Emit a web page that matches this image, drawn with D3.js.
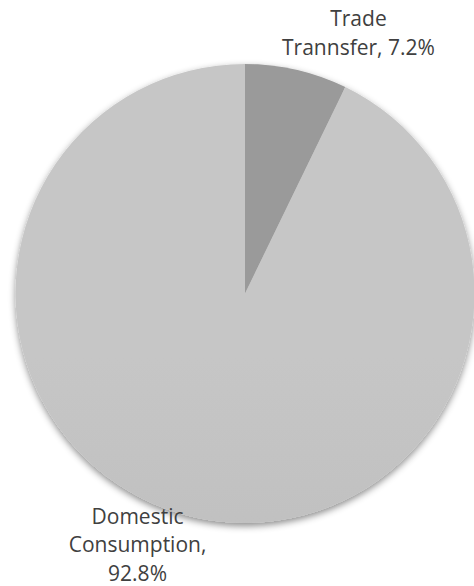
<!DOCTYPE html>
<html>
<head>
<meta charset="utf-8">
<script src="https://cdn.jsdelivr.net/npm/d3@7"></script>
<style>
  html, body { margin: 0; padding: 0; background: #fff; }
  svg { display: block; }
</style>
</head>
<body>
<svg id="chart" width="474" height="586"></svg>
<script>
// Share of trade flows
const categories = ["Trade Trannsfer", "Domestic Consumption"];
const values = [7.2, 92.8];
const labelLines = [["Trade", "Trannsfer, 7.2%"], ["Domestic", "Consumption,", "92.8%"]];
const sliceColors = [["#9a9a9a", "#8c8c8c"], ["#c6c6c6", "#b0b0b0"]];

const width = 474, height = 586;
const cx = 245, cy = 293.5, radius = 229.5;

const svg = d3.select("#chart");
const defs = svg.append("defs");

const shadow = defs.append("filter").attr("id", "pieShadow")
  .attr("x", "-10%").attr("y", "-10%").attr("width", "120%").attr("height", "125%");
shadow.append("feDropShadow")
  .attr("dx", 0).attr("dy", 3).attr("stdDeviation", 3.5)
  .attr("flood-color", "#000").attr("flood-opacity", 0.45);

sliceColors.forEach((c, i) => {
  const g = defs.append("linearGradient").attr("id", "grad" + i)
    .attr("gradientUnits", "userSpaceOnUse")
    .attr("x1", 0).attr("y1", cy - radius).attr("x2", 0).attr("y2", cy + radius);
  g.append("stop").attr("offset", "0%").attr("stop-color", c[0]);
  g.append("stop").attr("offset", "55%").attr("stop-color", d3.interpolateRgb(c[0], c[1])(0.35));
  g.append("stop").attr("offset", "100%").attr("stop-color", c[1]);
});

const pie = d3.pie().sort(null).value(d => d)(values);
const arc = d3.arc().innerRadius(0).outerRadius(radius);

const g = svg.append("g").attr("transform", `translate(${cx},${cy})`);

g.append("g").attr("filter", "url(#pieShadow)")
  .selectAll("path").data(pie).join("path")
  .attr("d", arc)
  .attr("fill", (d, i) => `url(#grad${i})`);

// Data labels, set a little clockwise of each slice's middle
const labelRadius = 272;
const labelShift = 11 * Math.PI / 180;
const labelDx = 3;
const firstBaseline = -18.5;
const lineHeight = 28.8;

const labels = g.append("g")
  .attr("font-family", "'Open Sans', 'Noto Sans', sans-serif")
  .attr("font-size", 21)
  .attr("fill", "#404040")
  .attr("text-anchor", "middle");

pie.forEach((d, i) => {
  const a = (d.startAngle + d.endAngle) / 2 + labelShift;
  const x = labelRadius * Math.sin(a) + labelDx;
  const y = -labelRadius * Math.cos(a);
  const t = labels.append("text")
    .attr("transform", `translate(${x},${y})`);
  labelLines[i].forEach((ln, j) => {
    t.append("tspan")
      .attr("x", 0)
      .attr("y", firstBaseline + j * lineHeight)
      .text(ln);
  });
});
</script>
</body>
</html>
